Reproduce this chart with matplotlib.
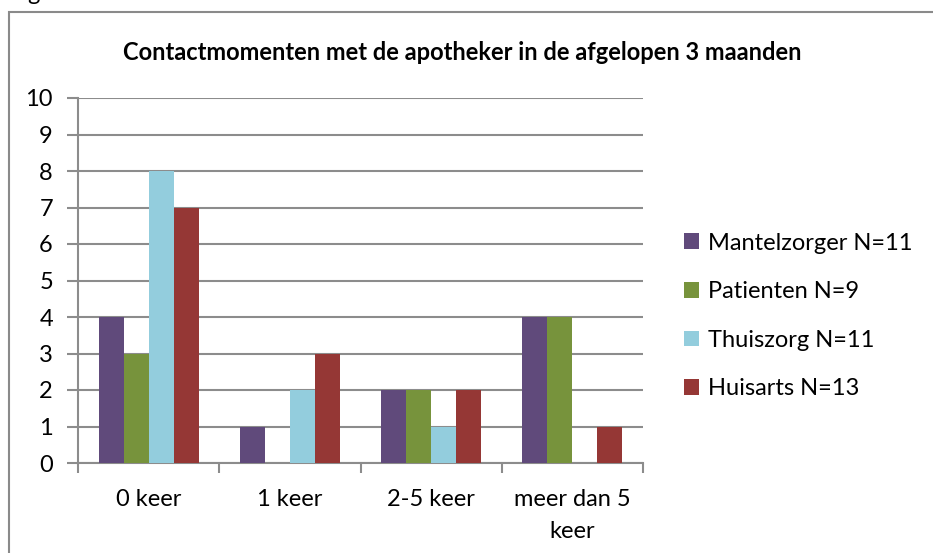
import matplotlib
matplotlib.use("Agg")
import matplotlib.pyplot as plt
from matplotlib.patches import Rectangle
import numpy as np

plt.rcParams["font.family"] = ["Lato", "DejaVu Sans"]

# data
categories = ["0 keer", "1 keer", "2-5 keer", "meer dan 5\nkeer"]
series = ["Mantelzorger N=11", "Patienten N=9", "Thuiszorg N=11", "Huisarts N=13"]
mantelzorger = [4, 1, 2, 4]
patienten = [3, 0, 2, 4]
thuiszorg = [8, 2, 1, 0]
huisarts = [7, 3, 2, 1]
yticks = list(range(0, 11))

COLORS = ["#604A7B", "#77933C", "#93CDDD", "#953735"]
GRID = "#8c8c8c"
FS = 17

fig = plt.figure(figsize=(9.33, 5.53), dpi=100)

# outer chart frame (cut off at right / bottom)
fig.patches.append(Rectangle((9 / 933, -0.05), 1.0, 1 - 12 / 553 + 0.05,
                             transform=fig.transFigure, fill=False,
                             edgecolor="#8a8a8a", linewidth=1.5))
# remnant of text above the chart, cut off by the page edge
fig.text(27 / 933, 1 + 6 / 553, "g", fontsize=FS, va="center", ha="left")

ax = fig.add_axes([78 / 933, 1 - 463 / 553, (643 - 78) / 933, (463 - 98) / 553])

x = np.arange(len(categories))
w = 0.177
vals = [mantelzorger, patienten, thuiszorg, huisarts]
for i, (name, v) in enumerate(zip(series, vals)):
    ax.bar(x + (i - 1.5) * w, v, w, color=COLORS[i], label=name, zorder=3)

ax.set_xlim(-0.5, len(categories) - 0.5)
ax.set_ylim(0, 10)
ax.set_yticks(yticks)
ax.yaxis.grid(True, color=GRID, linewidth=1.5, zorder=0)
ax.set_xticks(np.arange(len(categories) + 1) - 0.5)
ax.set_xticklabels([])
ax.set_xticks(x, minor=True)
ax.set_xticklabels(categories, minor=True, fontsize=FS, linespacing=1.6)
ax.tick_params(axis="x", which="minor", length=0, pad=19)
ax.tick_params(axis="x", which="major", length=7, width=1.5, color=GRID, direction="out")
ax.tick_params(axis="y", length=8, width=1.5, color=GRID, labelsize=FS, pad=10)

for s in ["top", "right"]:
    ax.spines[s].set_visible(False)
for s in ["left", "bottom"]:
    ax.spines[s].set_color(GRID)
    ax.spines[s].set_linewidth(1.5)

fig.text(462 / 933, 1 - 52 / 553, "Contactmomenten met de apotheker in de afgelopen 3 maanden",
         ha="center", va="center", fontsize=17, fontweight="bold")

fig.legend(loc="center left", bbox_to_anchor=(663 / 933, 1 - 316 / 553), frameon=False,
           fontsize=FS, handlelength=0.64, handleheight=0.64, handletextpad=0.35,
           labelspacing=1.17)

fig.savefig("out.png", dpi=100)
